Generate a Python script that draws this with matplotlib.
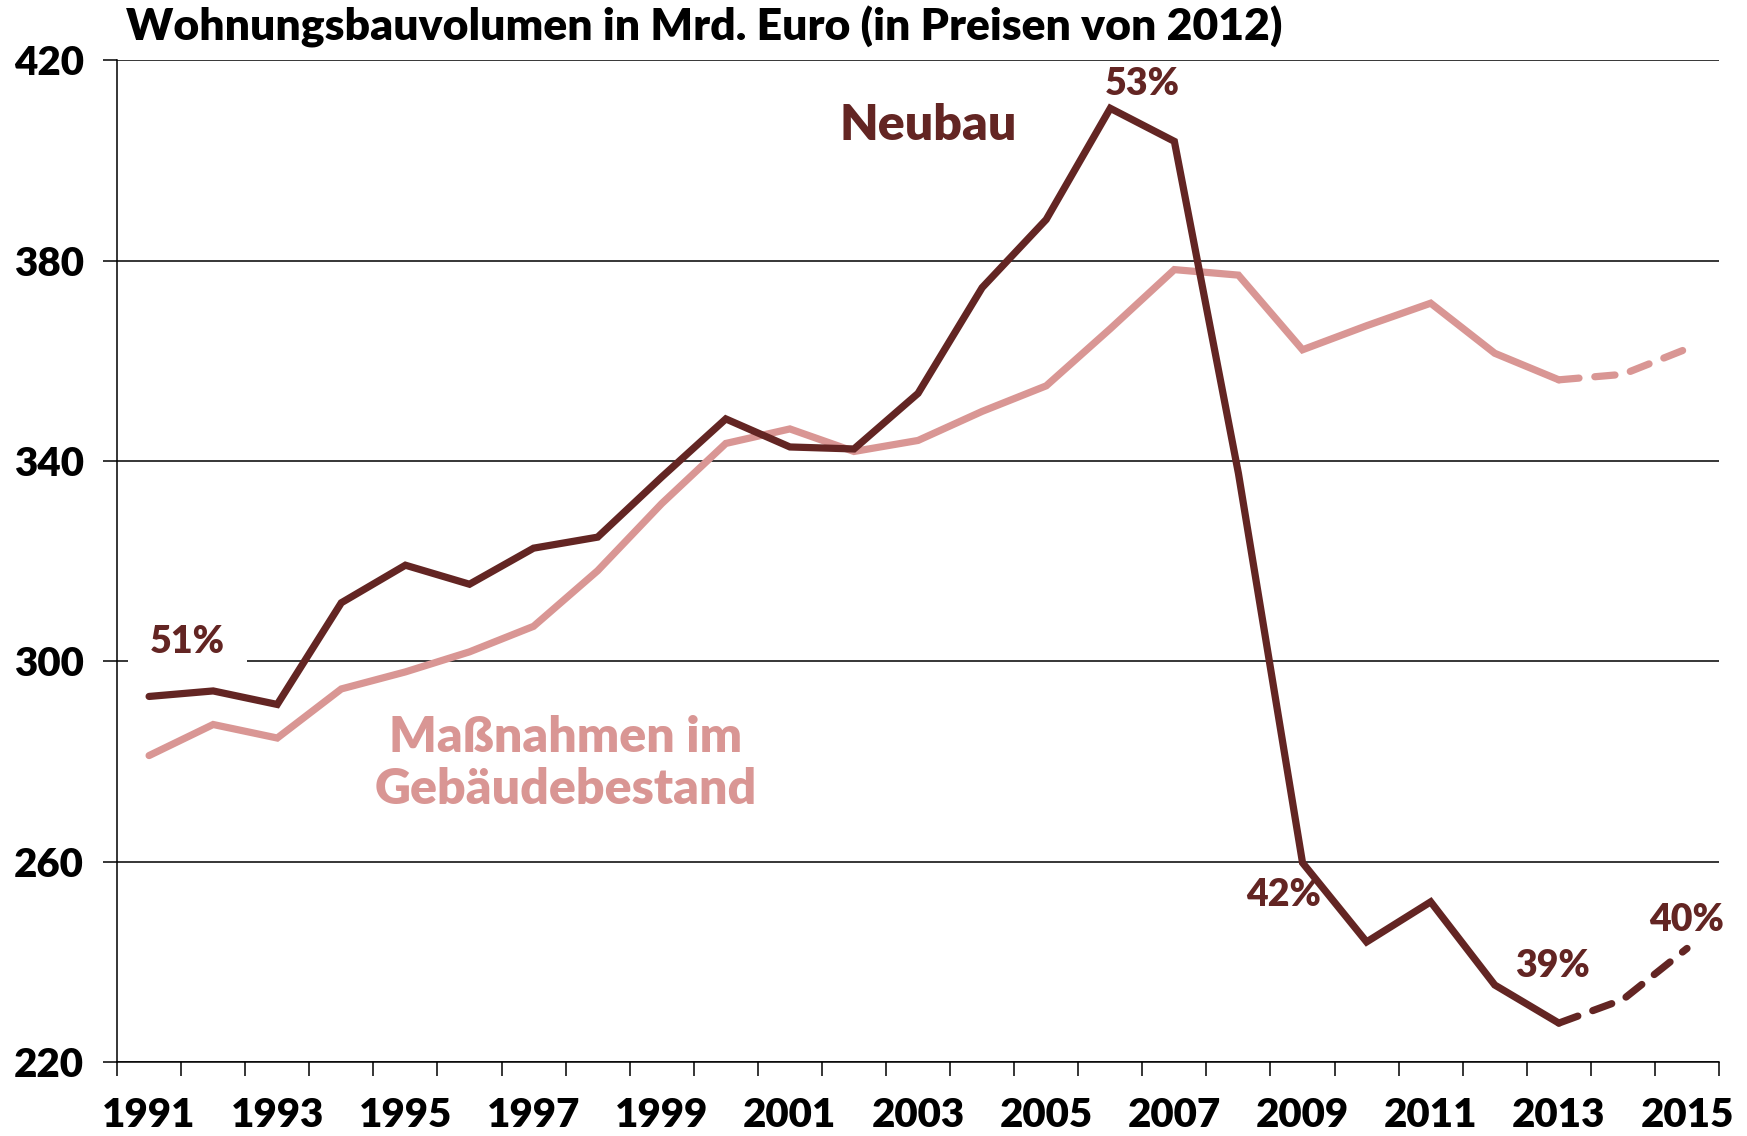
import matplotlib
matplotlib.use("Agg")
import matplotlib.pyplot as plt
from matplotlib.ticker import FixedLocator, NullFormatter

# Wohnungsbauvolumen in Mrd. Euro (Preise 2012), 2014/2015 Prognose
years = list(range(1991, 2016))
neubau = [293.0, 294.1, 291.4, 311.7, 319.2, 315.4, 322.6, 324.8, 336.8, 348.4,
          342.8, 342.4, 353.5, 374.6, 388.2, 410.4, 403.8, 337.5, 259.8, 244.0,
          252.0, 235.4, 227.8, 232.5, 242.7]
bestand = [281.2, 287.4, 284.7, 294.5, 297.9, 301.9, 307.0, 318.1, 331.5, 343.5,
           346.4, 341.9, 344.1, 349.9, 355.0, 366.4, 378.2, 377.1, 362.2, 367.0,
           371.5, 361.5, 356.2, 357.3, 362.4]
last_actual = 2013

pct_labels = ["51%", "53%", "42%", "39%", "40%"]
pct_pos = [(1991.6, 303.9), (2006.5, 415.3), (2008.7, 253.4), (2012.9, 239.1), (2015.0, 248.3)]

c_neu = "#632523"
c_best = "#D99694"
plt.rcParams['font.family'] = ['Lato', 'DejaVu Sans']
plt.rcParams['font.weight'] = 'heavy'

fig = plt.figure(figsize=(17.47, 11.36), dpi=100)
ax = fig.add_axes([0.067, 0.065, 0.917, 0.882])

lw = 5.2
i = years.index(last_actual)
ax.plot(years[:i + 1], bestand[:i + 1], color=c_best, lw=lw, solid_capstyle='round', solid_joinstyle='miter', zorder=3)
ax.plot(years[i:], bestand[i:], color=c_best, lw=lw, ls=(0, (2.8, 2.2)), dash_capstyle='round', zorder=3)
ax.plot(years[:i + 1], neubau[:i + 1], color=c_neu, lw=lw, solid_capstyle='round', solid_joinstyle='miter', zorder=4)
ax.plot(years[i:], neubau[i:], color=c_neu, lw=lw, ls=(0, (2.8, 2.2)), dash_capstyle='round', zorder=4)

ax.set_xlim(1990.5, 2015.5)
ax.set_ylim(220, 420)
ax.set_yticks(range(220, 421, 40))
ax.yaxis.grid(True, color='black', lw=1.1)
ax.set_axisbelow(True)

ax.xaxis.set_major_locator(FixedLocator(years[::2]))
ax.set_xticklabels([str(y) for y in years[::2]])
ax.xaxis.set_minor_locator(FixedLocator([y - 0.5 for y in years] + [2015.5]))
ax.xaxis.set_minor_formatter(NullFormatter())
ax.tick_params(axis='x', which='major', length=0, pad=25, labelsize=29)
ax.tick_params(axis='x', which='minor', length=10, width=1.1, direction='out')
ax.tick_params(axis='y', length=10, width=1.1, pad=14, labelsize=29)

for s in ['top', 'right']:
    ax.spines[s].set_visible(False)
for s in ['left', 'bottom']:
    ax.spines[s].set_linewidth(1.1)
ax.spines['left'].set_zorder(2)

for txt, (x, y) in zip(pct_labels, pct_pos):
    bbox = dict(facecolor='white', edgecolor='none', pad=16) if txt == "51%" else None
    ax.text(x, y, txt, color=c_neu, fontsize=27, ha='center', va='center', bbox=bbox, zorder=2.5)

ax.text(2003.16, 406.9, "Neubau", color=c_neu, fontsize=36, ha='center', va='center', zorder=5)
ax.text(1997.5, 279.6, "Maßnahmen im\nGebäudebestand", color=c_best, fontsize=36,
        ha='center', va='center', linespacing=1.2, zorder=5)

fig.text(0.072, 0.976, "Wohnungsbauvolumen in Mrd. Euro (in Preisen von 2012)",
         fontsize=32, ha='left', va='center')

fig.savefig("out.png", dpi=100)
